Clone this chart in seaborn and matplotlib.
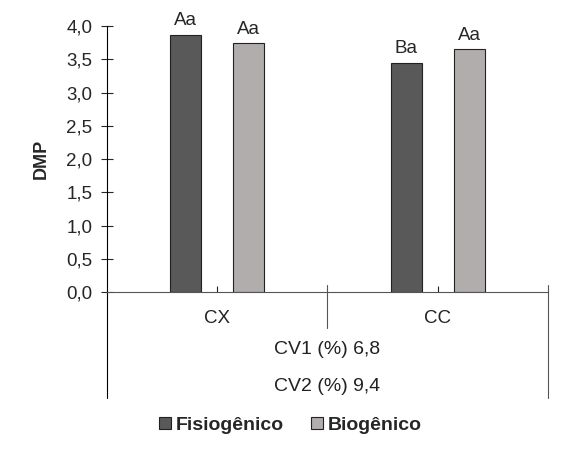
import pandas as pd
import matplotlib.pyplot as plt
import seaborn as sns
from matplotlib.ticker import FuncFormatter, MultipleLocator

# values
systems = ["CX", "CC"]
aggregates = ["Fisiogênico", "Biogênico"]
fisio_dmp = [3.87, 3.45]
bio_dmp = [3.74, 3.65]
fisio_letters = ["Aa", "Ba"]
bio_letters = ["Aa", "Aa"]
cv_lines = ["CV1 (%) 6,8", "CV2 (%) 9,4"]
colors = ["#595959", "#b1adac"]

df = pd.DataFrame({
    "Sistema": systems * 2,
    "Agregado": [aggregates[0]] * 2 + [aggregates[1]] * 2,
    "DMP": fisio_dmp + bio_dmp,
})

sns.set_style("white")
plt.rcParams["font.family"] = ["Liberation Sans", "DejaVu Sans"]

fig = plt.figure(figsize=(5.64, 4.5), dpi=100)
ax = fig.add_axes([0.1897, 0.3511, 0.7819, 0.5911])

sns.barplot(data=df, x="Sistema", y="DMP", hue="Agregado", order=systems,
            hue_order=aggregates, palette=colors, width=0.572, gap=0.51,
            edgecolor="#222222", linewidth=0.8, saturation=1, ax=ax)

# letters above bars
for cont, labs in zip(ax.containers, [fisio_letters, bio_letters]):
    ax.bar_label(cont, labels=labs, padding=4, fontsize=13.5)

ax.set_ylim(0, 4.0)
ax.set_xlim(-0.5, 1.5)
ax.yaxis.set_major_locator(MultipleLocator(0.5))
ax.yaxis.set_major_formatter(FuncFormatter(lambda v, p: f"{v:.1f}".replace(".", ",")))
ax.tick_params(axis="y", direction="inout", length=9, width=0.8, labelsize=13.5, pad=6, left=True)
ax.tick_params(axis="x", direction="in", length=4.5, width=0.8, labelsize=13.5, pad=13, bottom=True,
               colors="#222222")
ax.set_xlabel("")
ax.set_ylabel("DMP", fontsize=13, fontweight="bold", labelpad=12)

for s in ["top", "right"]:
    ax.spines[s].set_visible(False)
ax.spines["left"].set_color("black")
ax.spines["left"].set_linewidth(0.8)
ax.spines["bottom"].set_color("#555555")
ax.spines["bottom"].set_linewidth(0.8)

# table-like lines under the axis
ax.plot([0, 0], [0, -0.398], transform=ax.transAxes, color="black", lw=0.8, clip_on=False)
ax.plot([1, 1], [0.026, -0.398], transform=ax.transAxes, color="#555555", lw=0.8, clip_on=False)
ax.plot([0.5, 0.5], [0.026, -0.135], transform=ax.transAxes, color="#555555", lw=0.8, clip_on=False)

for txt, yy in zip(cv_lines, [-0.218, -0.357]):
    ax.text(0.5, yy, txt, transform=ax.transAxes, ha="center", va="center", fontsize=14,
            color="#222222")

handles, labels = ax.get_legend_handles_labels()
ax.get_legend().remove()
fig.legend(handles, labels, loc="center", bbox_to_anchor=(0.515, 0.055), ncol=2, frameon=False,
           prop={"weight": "bold", "size": 14}, handlelength=0.6, handleheight=0.6,
           handletextpad=0.25, columnspacing=1.4)

fig.savefig("out.png", dpi=100)
